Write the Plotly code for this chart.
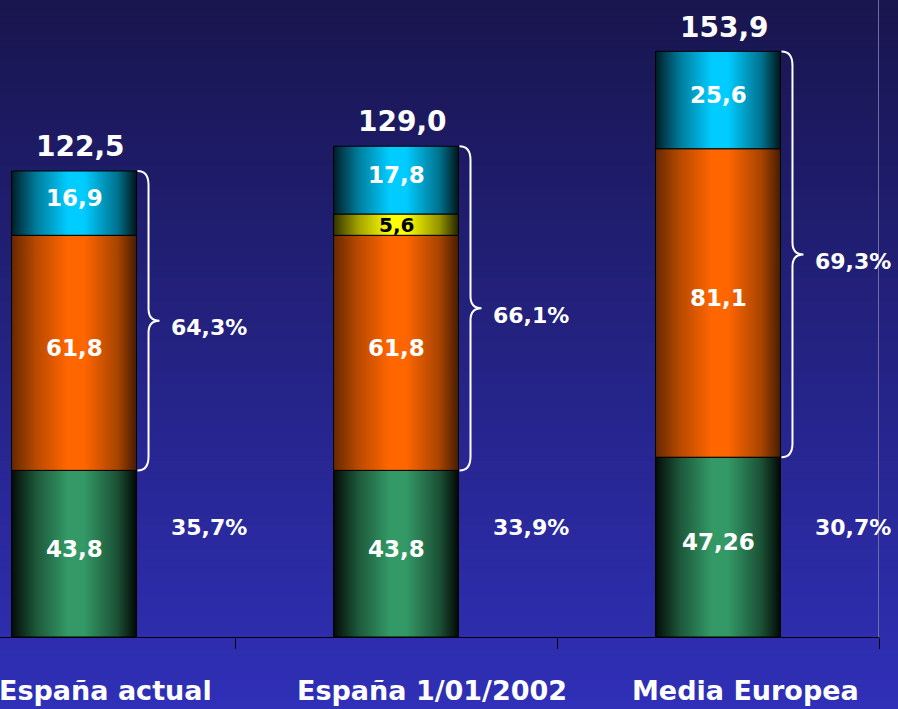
import plotly.graph_objects as go

# --- DATOS ---
categories = ["España actual", "España 1/01/2002", "Media Europea"]
green_vals = [43.8, 43.8, 47.26]
orange_vals = [61.8, 61.8, 81.1]
yellow_vals = [0, 5.6, 0]
cyan_vals = [16.9, 17.8, 25.6]
totals = [122.5, 129.0, 153.9]
upper_pct = [64.3, 66.1, 69.3]
lower_pct = [35.7, 33.9, 30.7]

# --- ESTILO ---
FONT = "Comic Sans MS, DejaVu Sans, sans-serif"
BG_TOP = (25, 22, 79)
BG_BOTTOM = (48, 48, 184)
PX_X = 1 / 322.0      # unidades x por pixel
PX_Y = 1 / 3.804      # unidades y por pixel
HALF_W = 0.194


def shade(hexcol, f):
    h = hexcol.lstrip("#")
    r, g, b = (int(h[k:k + 2], 16) for k in (0, 2, 4))
    return f"rgb({int(r * f)},{int(g * f)},{int(b * f)})"


def cylinder(col, edge):
    mid = edge + (1 - edge) * 0.55
    return [[0, shade(col, edge)], [0.2, shade(col, mid)], [0.45, shade(col, 1.0)],
            [0.58, shade(col, 1.0)], [0.85, shade(col, mid * 0.9)], [1, shade(col, edge * 0.7)]]


def fmt(v, dec=None):
    s = f"{v:.{dec}f}" if dec is not None else f"{v:g}"
    return s.replace(".", ",")


series = [
    (green_vals, "#339966", 0.08, "white"),
    (orange_vals, "#ff6600", 0.4, "white"),
    (yellow_vals, "#ffff00", 0.2, "black"),
    (cyan_vals, "#00ccff", 0.15, "white"),
]

fig = go.Figure()
shapes = []
annotations = []

# fondo degradado
n_bands = 120
y_lo, y_hi = -72 / 637.0, 1.0
for k in range(n_bands):
    t = k / (n_bands - 1)
    c = tuple(int(BG_BOTTOM[j] + (BG_TOP[j] - BG_BOTTOM[j]) * t) for j in range(3))
    b0 = y_lo + (y_hi - y_lo) * k / n_bands
    b1 = y_lo + (y_hi - y_lo) * (k + 1) / n_bands + 0.002
    shapes.append(dict(type="rect", xref="paper", yref="paper", x0=-0.01, x1=1.05,
                       y0=b0, y1=b1, fillcolor=f"rgb{c}", line=dict(width=0), layer="below"))

# barras apiladas (cilindros)
base = [0.0] * len(categories)
for vals, col, edge, txtcol in series:
    for i, v in enumerate(vals):
        if v == 0:
            continue
        x0, x1 = i - HALF_W, i + HALF_W
        y0, y1 = base[i], base[i] + v
        fig.add_trace(go.Scatter(
            x=[x0, x1, x1, x0, x0], y=[y0, y0, y1, y1, y0],
            mode="lines", fill="toself",
            fillgradient=dict(type="horizontal", colorscale=cylinder(col, edge)),
            line=dict(color="black", width=1), hoverinfo="skip", showlegend=False))
        annotations.append(dict(x=i, y=(y0 + y1) / 2, text=f"<b>{fmt(v)}</b>", showarrow=False,
                                yshift=5 if v > 10 else 0,
                                font=dict(family=FONT, size=23 if v > 10 else 20, color=txtcol)))
        base[i] = y1

# totales, llaves y porcentajes
for i in range(len(categories)):
    annotations.append(dict(x=i + 0.02, y=totals[i], text=f"<b>{fmt(totals[i], 1)}</b>",
                            showarrow=False, yanchor="bottom", yshift=6,
                            font=dict(family=FONT, size=28, color="white")))
    xr = i + HALF_W
    yt, yb = totals[i], green_vals[i]
    ym = (yt + yb) / 2
    xv, xc = xr + 12 * PX_X, xr + 23 * PX_X
    path = (f"M {xr + PX_X},{yt} Q {xv},{yt} {xv},{yt - 14 * PX_Y} "
            f"L {xv},{ym + 12 * PX_Y} Q {xv},{ym} {xc},{ym} "
            f"Q {xv},{ym} {xv},{ym - 12 * PX_Y} "
            f"L {xv},{yb + 14 * PX_Y} Q {xv},{yb} {xr + PX_X},{yb}")
    shapes.append(dict(type="path", xref="x", yref="y", path=path,
                       line=dict(color="white", width=2)))
    annotations.append(dict(x=i + 0.42, y=ym, text=f"<b>{fmt(upper_pct[i])}%</b>", showarrow=False,
                            yshift=-7, font=dict(family=FONT, size=22, color="white")))
    annotations.append(dict(x=i + 0.42, y=28.9, text=f"<b>{fmt(lower_pct[i])}%</b>", showarrow=False,
                            font=dict(family=FONT, size=22, color="white")))

# etiquetas de categoria
label_shift = [31, 36, 27]
for i, name in enumerate(categories):
    annotations.append(dict(x=i, y=0, xref="x", yref="paper", text=f"<b>{name}</b>", showarrow=False,
                            yanchor="middle", yshift=-53, xshift=label_shift[i],
                            font=dict(family=FONT, size=27, color="white")))

# linea vertical derecha
shapes.append(dict(type="line", xref="x", yref="paper", x0=2.5, x1=2.5, y0=0, y1=1,
                   line=dict(color="#6e6ea0", width=2)))

fig.update_layout(
    width=898, height=709,
    margin=dict(l=0, r=19, t=0, b=72),
    paper_bgcolor="#24237f", plot_bgcolor="rgba(0,0,0,0)",
    shapes=shapes, annotations=annotations, showlegend=False,
    xaxis=dict(range=[-0.23, 2.5], showgrid=False, zeroline=False, showline=True,
               linecolor="black", linewidth=1, tickmode="array", tickvals=[0.5, 1.5, 2.5],
               ticks="outside", ticklen=11, tickcolor="black", showticklabels=False),
    yaxis=dict(range=[0, 637 / 3.804], visible=False),
)

fig.write_html("out.html", config={"displayModeBar": False},
               post_script="document.body.style.margin='0';")
